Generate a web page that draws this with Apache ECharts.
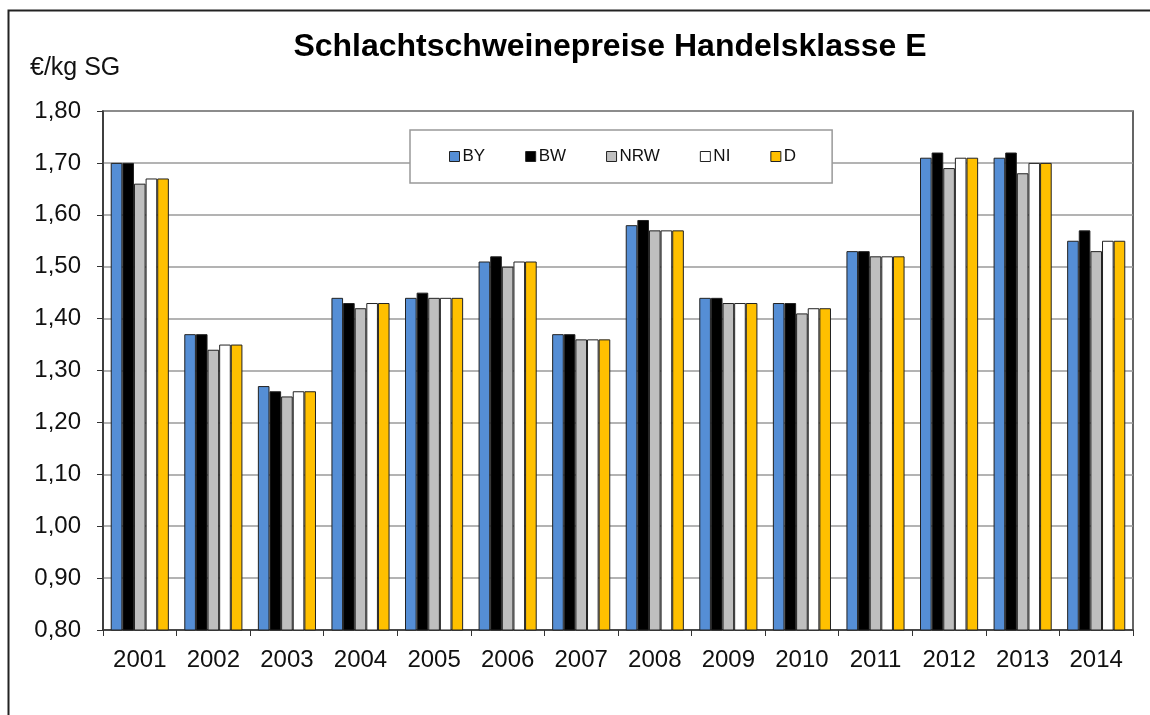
<!DOCTYPE html>
<html lang="de">
<head>
    <meta charset="UTF-8">
    <title>Schlachtschweinepreise</title>
    <script src="https://cdn.jsdelivr.net/npm/echarts@6/dist/echarts.min.js"></script>
    <style>
        html, body { margin: 0; padding: 0; background: #fff; }
        #main { width: 1150px; height: 715px; }
    </style>
</head>
<body>
<div id="main"></div>
<script type="text/javascript">
    var years = ['2001', '2002', '2003', '2004', '2005', '2006', '2007', '2008', '2009', '2010', '2011', '2012', '2013', '2014'];
    var BY  = [1.70, 1.37, 1.27, 1.44, 1.44, 1.51, 1.37, 1.58, 1.44, 1.43, 1.53, 1.71, 1.71, 1.55];
    var BW  = [1.70, 1.37, 1.26, 1.43, 1.45, 1.52, 1.37, 1.59, 1.44, 1.43, 1.53, 1.72, 1.72, 1.57];
    var NRW = [1.66, 1.34, 1.25, 1.42, 1.44, 1.50, 1.36, 1.57, 1.43, 1.41, 1.52, 1.69, 1.68, 1.53];
    var NI  = [1.67, 1.35, 1.26, 1.43, 1.44, 1.51, 1.36, 1.57, 1.43, 1.42, 1.52, 1.71, 1.70, 1.55];
    var D   = [1.67, 1.35, 1.26, 1.43, 1.44, 1.51, 1.36, 1.57, 1.43, 1.42, 1.52, 1.71, 1.70, 1.55];

    var names = ['BY', 'BW', 'NRW', 'NI', 'D'];
    var colors = ['#558ED5', '#000000', '#BFBFBF', '#FFFFFF', '#FFC000'];
    var values = [BY, BW, NRW, NI, D];

    var myChart = echarts.init(document.getElementById('main'));

    var series = [];
    for (var i = 0; i < names.length; i++) {
        series.push({
            name: names[i],
            type: 'bar',
            data: values[i],
            barGap: '0%',
            barCategoryGap: '21%',
            itemStyle: {
                color: colors[i],
                borderColor: '#222',
                borderWidth: 1
            }
        });
    }

    var option = {
        animation: false,
        textStyle: { fontFamily: 'Liberation Sans, Arial, sans-serif' },
        color: colors,
        title: {
            text: 'Schlachtschweinepreise Handelsklasse E',
            left: 605,
            textAlign: 'center',
            top: 26,
            textStyle: {
                fontSize: 32,
                fontWeight: 'bold',
                color: '#000',
                fontFamily: 'Liberation Sans, Arial, sans-serif'
            }
        },
        graphic: [
            {
                type: 'rect',
                shape: { x: 8.5, y: 10.5, width: 1160, height: 720 },
                style: { fill: 'none', stroke: '#222', lineWidth: 2 },
                silent: true
            },
            {
                type: 'text',
                left: 30,
                top: 56,
                style: {
                    text: '€/kg SG',
                    fontSize: 25,
                    fill: '#111',
                    fontFamily: 'Liberation Sans, Arial, sans-serif'
                }
            }
        ],
        legend: {
            data: names,
            left: 410,
            top: 130,
            orient: 'horizontal',
            itemWidth: 10,
            itemHeight: 10,
            itemGap: 40,
            padding: [18, 36, 18, 39],
            backgroundColor: '#fff',
            borderColor: '#999',
            borderWidth: 1.5,
            borderRadius: 0,
            icon: 'rect',
            textStyle: { fontSize: 17, color: '#111', padding: [0, 0, 0, -2] },
            itemStyle: { borderColor: '#222', borderWidth: 1 }
        },
        grid: {
            left: 103,
            right: 17,
            top: 111,
            bottom: 85,
            show: true,
            borderColor: '#333',
            borderWidth: 1.5
        },
        xAxis: {
            type: 'category',
            data: years,
            axisLine: { lineStyle: { color: '#333', width: 1.5 } },
            axisTick: { show: true, length: 6, lineStyle: { color: '#333' } },
            axisLabel: { fontSize: 24, color: '#111', margin: 18 }
        },
        yAxis: {
            type: 'value',
            min: 0.8,
            max: 1.8,
            interval: 0.1,
            axisLine: { show: true, lineStyle: { color: '#333', width: 1.5 } },
            axisTick: { show: true, length: 6, lineStyle: { color: '#333' } },
            axisLabel: {
                fontSize: 24,
                color: '#111',
                margin: 22,
                formatter: function (v) {
                    return v.toFixed(2).replace('.', ',');
                }
            },
            splitLine: { lineStyle: { color: '#9a9a9a', width: 1.5 } }
        },
        series: series
    };

    myChart.setOption(option);
</script>
</body>
</html>
